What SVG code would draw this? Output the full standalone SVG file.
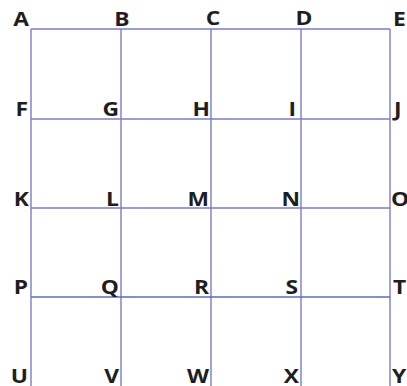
<svg xmlns="http://www.w3.org/2000/svg" width="407" height="386" viewBox="0 0 407 386">
<style>
.l{fill:none;stroke:#7c7cc8;stroke-width:1.4}
.b{stroke:#5a6cc0}
text{font-family:"Open Sans","Liberation Sans",sans-serif;font-weight:bold;font-size:19px;fill:#1e1e1e}
.e{text-anchor:end}
.m{text-anchor:middle}
</style>
<rect width="407" height="386" fill="#ffffff"/>
<g id="grid">
<path class="l" d="M31 29V386M121 29V386M211 29V386M301 29V386M390 29V386M31 29H390M31 119H390M31 208H390"/>
<path class="l b" d="M31 297H390"/>
</g>
<g id="labels">
<g id="A"><g transform="translate(29,26) scale(1.2,1)"><text class="e">A</text></g></g>
<g id="B"><g transform="translate(122,26) scale(1.2,1)"><text class="m">B</text></g></g>
<g id="C"><g transform="translate(213,25) scale(1.2,1)"><text class="m">C</text></g></g>
<g id="D"><g transform="translate(304,25) scale(1.2,1)"><text class="m">D</text></g></g>
<g id="E"><g transform="translate(393,26) scale(1.2,1)"><text>E</text></g></g>
<g id="F"><g transform="translate(28,116) scale(1.2,1)"><text class="e">F</text></g></g>
<g id="G"><g transform="translate(119,116) scale(1.2,1)"><text class="e">G</text></g></g>
<g id="H"><g transform="translate(210,116) scale(1.2,1)"><text class="e">H</text></g></g>
<g id="I"><g transform="translate(296,116) scale(1.2,1)"><text class="e">I</text></g></g>
<g id="J"><g transform="translate(394,116) scale(1.2,1)"><text>J</text></g></g>
<g id="K"><g transform="translate(29,206) scale(1.2,1)"><text class="e">K</text></g></g>
<g id="L"><g transform="translate(119,206) scale(1.2,1)"><text class="e">L</text></g></g>
<g id="M"><g transform="translate(209,206) scale(1.2,1)"><text class="e">M</text></g></g>
<g id="N"><g transform="translate(300,206) scale(1.2,1)"><text class="e">N</text></g></g>
<g id="O"><g transform="translate(391,206) scale(1.2,1)"><text>O</text></g></g>
<g id="P"><g transform="translate(28,294) scale(1.2,1)"><text class="e">P</text></g></g>
<g id="Q"><g transform="translate(119,294) scale(1.2,1)"><text class="e">Q</text></g></g>
<g id="R"><g transform="translate(209,294) scale(1.2,1)"><text class="e">R</text></g></g>
<g id="S"><g transform="translate(298,294) scale(1.2,1)"><text class="e">S</text></g></g>
<g id="T"><g transform="translate(393,294) scale(1.2,1)"><text>T</text></g></g>
<g id="U"><g transform="translate(28,383) scale(1.2,1)"><text class="e">U</text></g></g>
<g id="V"><g transform="translate(119,383) scale(1.2,1)"><text class="e">V</text></g></g>
<g id="W"><g transform="translate(209,383) scale(1.2,1)"><text class="e">W</text></g></g>
<g id="X"><g transform="translate(299,383) scale(1.2,1)"><text class="e">X</text></g></g>
<g id="Y"><g transform="translate(392,383) scale(1.2,1)"><text>Y</text></g></g>
</g>
</svg>
